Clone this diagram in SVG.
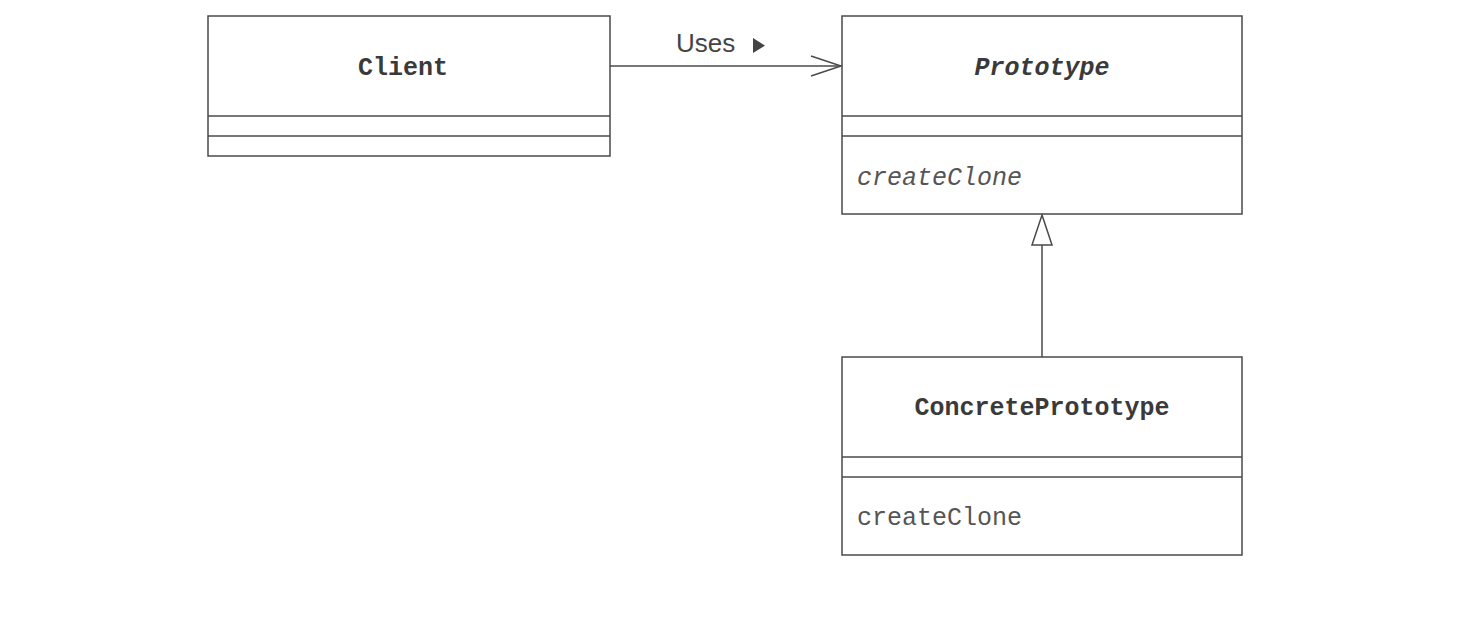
<svg xmlns="http://www.w3.org/2000/svg" width="1458" height="625" viewBox="0 0 1458 625">
<style>
.box{fill:#fff;stroke:#4a4a4a;stroke-width:1.5}
.div{stroke:#4a4a4a;stroke-width:1.5}
.name{font-family:"Liberation Mono",monospace;font-weight:bold;font-size:25px;fill:#3a3a3a;text-anchor:middle}
.op{font-family:"Liberation Mono",monospace;font-size:25px;fill:#555}
.lbl{font-family:"Liberation Sans",Arial,sans-serif;font-size:26px;fill:#444}
.conn{stroke:#4a4a4a;stroke-width:1.5;fill:none}
</style>
<rect width="1458" height="625" fill="#fff"/>
<g id="client">
<rect class="box" x="208" y="16" width="402" height="140"/>
<line class="div" x1="208" y1="116" x2="610" y2="116"/>
<line class="div" x1="208" y1="136" x2="610" y2="136"/>
<text class="name" x="403" y="75">Client</text>
</g>
<g id="prototype">
<rect class="box" x="842" y="16" width="400" height="198"/>
<line class="div" x1="842" y1="116" x2="1242" y2="116"/>
<line class="div" x1="842" y1="136" x2="1242" y2="136"/>
<text class="name" x="1042" y="75" font-style="italic">Prototype</text>
<text class="op" x="857" y="185" font-style="italic">createClone</text>
</g>
<g id="concreteprototype">
<rect class="box" x="842" y="357" width="400" height="198"/>
<line class="div" x1="842" y1="457" x2="1242" y2="457"/>
<line class="div" x1="842" y1="477" x2="1242" y2="477"/>
<text class="name" x="1042" y="415">ConcretePrototype</text>
<text class="op" x="857" y="525">createClone</text>
</g>
<g id="connectors">
<line class="conn" x1="610" y1="66" x2="841" y2="66"/>
<polyline class="conn" points="811,56 841,66 811,76"/>
<text class="lbl" x="676" y="52">Uses</text>
<polygon points="753,38 765,45.5 753,53" fill="#444"/>
<line class="conn" x1="1042" y1="357" x2="1042" y2="245"/>
<polygon class="conn" points="1042,215 1052,245 1032,245" style="fill:#fff"/>
</g>
</svg>
